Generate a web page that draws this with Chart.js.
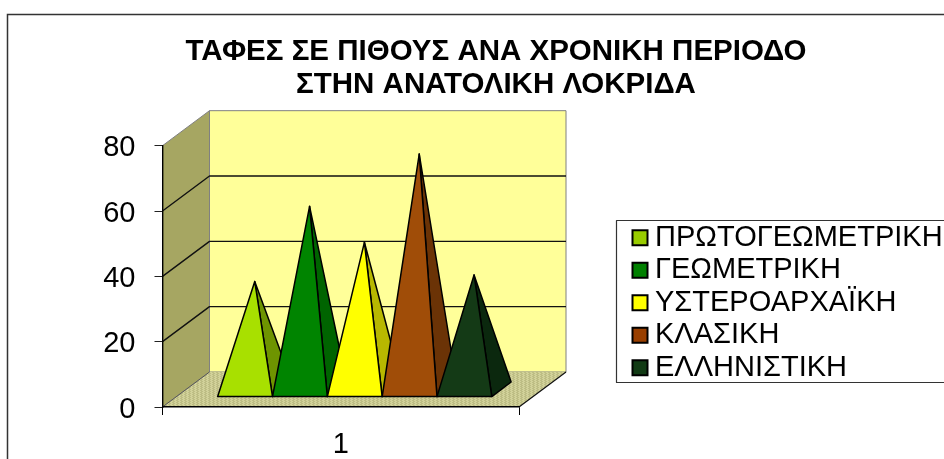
<!DOCTYPE html>
<html><head><meta charset="utf-8">
<style>html,body{margin:0;padding:0;background:#fff}#wrap{width:944px;height:459px}</style>
<script src="https://cdn.jsdelivr.net/npm/chart.js@4"></script></head>
<body><div id="wrap"><canvas id="c" width="944" height="459"></canvas></div>
<script>
const categories = ['1'];
const seriesNames = ['ΠΡΩΤΟΓΕΩΜΕΤΡΙΚΗ','ΓΕΩΜΕΤΡΙΚΗ','ΥΣΤΕΡΟΑΡΧΑΪΚΗ','ΚΛΑΣΙΚΗ','ΕΛΛΗΝΙΣΤΙΚΗ'];
const protogeometric = [33];
const geometric = [56];
const lateArchaic = [45];
const classical = [72];
const hellenistic = [35];
const seriesValues = [protogeometric, geometric, lateArchaic, classical, hellenistic];
const legendColours = ['#99CC00','#008000','#FFFF00','#993F00','#113A14'];
const frontColours = ['#A8E000','#008400','#FFFF00','#A04D08','#143A16'];
const sideColours = ['#6E9400','#006400','#B8B800','#6B3306','#0B280E'];
const titleLines = ['ΤΑΦΕΣ ΣΕ ΠΙΘΟΥΣ ΑΝΑ ΧΡΟΝΙΚΗ ΠΕΡΙΟΔΟ','ΣΤΗΝ ΑΝΑΤΟΛΙΚΗ ΛΟΚΡΙΔΑ'];

const FONT = '"Liberation Sans", Arial, sans-serif';
const DEPTH_X = 47, DEPTH_Y = 35;       // wall depth
const BAR_DX = 19.3, BAR_DY = 14.6;     // pyramid depth
const BAR_OX = 14, BAR_OY = 10.4;       // front-face offset from the axis plane

function floorPattern(ctx){
  const p = document.createElement('canvas'); p.width = 4; p.height = 2;
  const g = p.getContext('2d');
  g.fillStyle = '#D2D29A'; g.fillRect(0,0,4,2);
  g.fillStyle = '#BDBD84'; g.fillRect(0,0,2,1); g.fillRect(1,1,2,1);
  return ctx.createPattern(p,'repeat');
}
function poly(ctx, pts, fill, stroke, lw){
  ctx.beginPath(); pts.forEach((q,i)=> i?ctx.lineTo(q[0],q[1]):ctx.moveTo(q[0],q[1])); ctx.closePath();
  if(fill){ctx.fillStyle=fill;ctx.fill();}
  if(stroke){ctx.strokeStyle=stroke;ctx.lineWidth=lw||1;ctx.lineJoin='round';ctx.stroke();}
}
const scene = {
  id:'scene',
  afterLayout(chart){
    const L = chart.legend;
    L.left = 636; L.right = 944; L.top = 219.7; L.bottom = 600;
    L.draw = function(){ this._draw(); };
    const T = chart.titleBlock;
    T.left = 48; T.right = 944;
  },
  beforeDraw(chart){
    const {ctx, chartArea:a, scales:{y}} = chart;
    ctx.save();
    ctx.fillStyle='#fff'; ctx.fillRect(0,0,chart.width,chart.height);
    // frame
    ctx.strokeStyle='#333'; ctx.lineWidth=1.5;
    ctx.beginPath(); ctx.moveTo(7.5,459); ctx.lineTo(7.5,14.5); ctx.lineTo(944,14.5); ctx.stroke();
    const l=a.left, r=a.right, t=a.top, b=a.bottom;
    // back wall, side wall, floor
    poly(ctx,[[l+DEPTH_X,t-DEPTH_Y],[r+DEPTH_X,t-DEPTH_Y],[r+DEPTH_X,b-DEPTH_Y],[l+DEPTH_X,b-DEPTH_Y]],'#FFFF99','#808080',1);
    poly(ctx,[[l,t],[l+DEPTH_X,t-DEPTH_Y],[l+DEPTH_X,b-DEPTH_Y],[l,b]],'#A6A662','#808080',1);
    poly(ctx,[[l,b],[l+DEPTH_X,b-DEPTH_Y],[r+DEPTH_X,b-DEPTH_Y],[r,b]],floorPattern(ctx),null);
    ctx.strokeStyle='#111'; ctx.lineWidth=1.2;
    ctx.beginPath(); ctx.moveTo(r,b); ctx.lineTo(r+DEPTH_X,b-DEPTH_Y); ctx.stroke();
    ctx.strokeStyle='#555'; ctx.lineWidth=1;
    ctx.beginPath(); ctx.moveTo(l,b); ctx.lineTo(l+DEPTH_X,b-DEPTH_Y); ctx.stroke();
    // grid lines across side and back wall
    ctx.strokeStyle='#111'; ctx.lineWidth=1.4;
    y.ticks.forEach(tk=>{
      if(tk.value===0||tk.value===y.max) return;
      const py=y.getPixelForValue(tk.value);
      ctx.beginPath(); ctx.moveTo(l,py); ctx.lineTo(l+DEPTH_X,py-DEPTH_Y); ctx.lineTo(r+DEPTH_X,py-DEPTH_Y); ctx.stroke();
    });
    // legend frame
    ctx.strokeStyle='#333'; ctx.lineWidth=1.2;
    ctx.beginPath(); ctx.moveTo(944,220.5); ctx.lineTo(616.5,220.5); ctx.lineTo(616.5,382.5); ctx.lineTo(944,382.5); ctx.stroke();
    ctx.restore();
  },
  beforeDatasetsDraw(chart){
    const {ctx, scales:{y}} = chart;
    ctx.save();
    chart.data.datasets.forEach((ds,i)=>{
      const el = chart.getDatasetMeta(i).data[0];
      const x0 = el.x - el.width/2 + BAR_OX, x1 = el.x + el.width/2 + BAR_OX;
      const by = y.getPixelForValue(0) - BAR_OY;
      const ax = (x0+x1+BAR_DX)/2;
      const ay = y.getPixelForValue(ds.data[0]) - BAR_OY - BAR_DY/2;
      poly(ctx,[[ax,ay],[x1,by],[x1+BAR_DX,by-BAR_DY]],sideColours[i],'#000',1.5);
      poly(ctx,[[ax,ay],[x0,by],[x1,by]],frontColours[i],'#000',1.5);
    });
    ctx.restore();
    return false;
  }
};
const datasets = seriesNames.map((name,i)=>({
  label:name, data:seriesValues[i], backgroundColor:legendColours[i], borderColor:'#000', borderWidth:2,
  categoryPercentage:0.769, barPercentage:1
}));
new Chart(document.getElementById('c'),{
  type:'bar',
  data:{labels:categories,datasets},
  plugins:[scene],
  options:{
    responsive:false, animation:false, events:[],
    layout:{padding:{left:0,right:425,top:0,bottom:0}},
    plugins:{
      tooltip:{enabled:false},
      title:{display:true,text:titleLines,color:'#000',font:{family:FONT,size:29.5,weight:'bold',lineHeight:1.12},padding:{top:35,bottom:44.6}},
      legend:{position:'chartArea',align:'start',labels:{
        usePointStyle:true,pointStyle:'rect',boxWidth:1,boxHeight:15,padding:3.5,color:'#000',font:{family:FONT,size:29}
      }}
    },
    scales:{
      x:{grid:{drawOnChartArea:false,color:'#000',tickLength:8},border:{color:'#000',width:1.4},
         ticks:{color:'#000',font:{family:FONT,size:29},padding:13,maxRotation:0},afterFit:s=>{s.height=52;}},
      y:{min:0,max:80,grid:{drawOnChartArea:false,color:'#222',tickLength:8},border:{color:'#000',width:1.4},
         ticks:{stepSize:20,color:'#000',font:{family:FONT,size:29},padding:19,labelOffset:2.5},afterFit:s=>{s.width=162.5;}}
    }
  }
});
</script></body></html>
